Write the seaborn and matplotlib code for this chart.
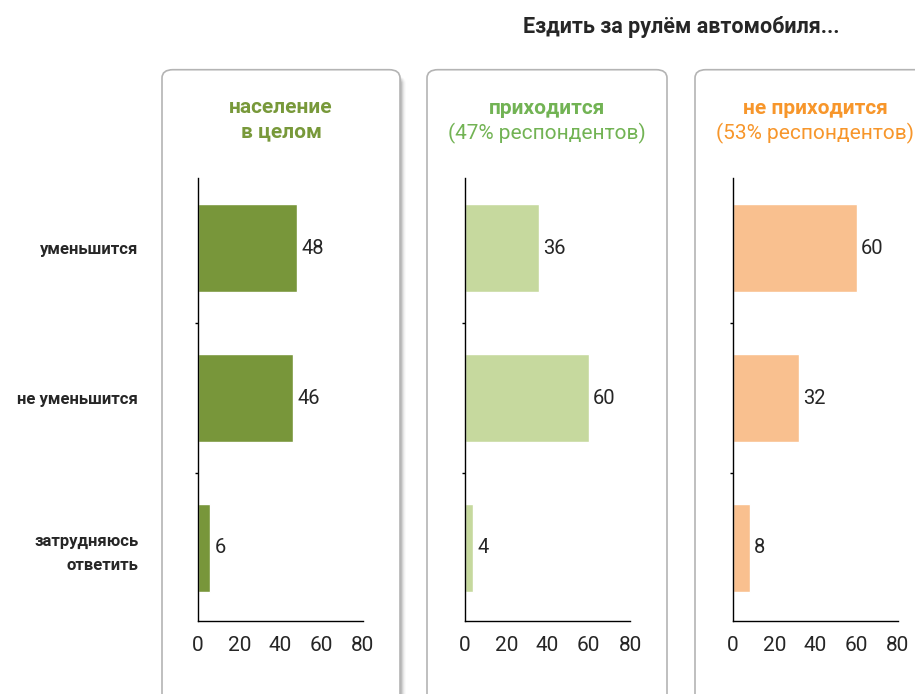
import numpy as np
import pandas as pd
import seaborn as sns
import matplotlib.pyplot as plt
from matplotlib import font_manager
from matplotlib.patches import FancyBboxPatch

categories = ['уменьшится', 'не уменьшится', 'затрудняюсь\nответить']
total = [48, 46, 6]
drivers = [36, 60, 4]
non_drivers = [60, 32, 8]

panel_titles = ['население\nв целом', 'приходится', 'не приходится']
panel_subtitles = ['', '(47% респондентов)', '(53% респондентов)']
main_title = 'Ездить за рулём автомобиля...'
xticks = [0, 20, 40, 60, 80]

bar_colors = ['#78963a', '#c6d99e', '#f9c08f']
title_colors = ['#78993a', '#72b354', '#f7962b']

sns.set_style('white')
names = {f.name for f in font_manager.fontManager.ttflist}
fam = 'Liberation Sans Narrow' if 'Liberation Sans Narrow' in names else 'Roboto'
plt.rcParams['font.family'] = [fam, 'DejaVu Sans']

W, H = 915, 694
fig = plt.figure(figsize=(W / 100, H / 100), dpi=100)

# panel boxes (pixel coords -> figure fraction)
boxes = [(162, 400), (427, 667), (695, 935)]
for i, (x0, x1) in enumerate(boxes):
    if i == 0:
        # soft shadow on the right side of the first panel
        for k, a in enumerate([0.10, 0.07, 0.05, 0.03, 0.02]):
            sh = FancyBboxPatch(((x1 - 30) / W, -0.05), (30 + 2 + k) / W, (H - 76 + 35) / H,
                                boxstyle='round,pad=0,rounding_size=0.012', transform=fig.transFigure,
                                facecolor='black', edgecolor='none', alpha=a, zorder=0)
            fig.add_artist(sh)
    box = FancyBboxPatch((x0 / W, -0.05), (x1 - x0) / W, (H - 70 + 35) / H,
                         boxstyle='round,pad=0,rounding_size=0.012', transform=fig.transFigure,
                         facecolor='white', edgecolor='#b4b4b4', linewidth=1.2, zorder=1)
    fig.add_artist(box)

fig.text(681 / W, 1 - 27 / H, main_title, ha='center', va='center', fontsize=15.5, fontweight='bold')

lefts = [198, 465, 733]
series = [total, drivers, non_drivers]
centers = [281, 547, 815]
for i in range(3):
    ax = fig.add_axes([lefts[i] / W, 73 / H, 165 / W, 443 / H])
    ax.set_zorder(2)
    ax.patch.set_alpha(0)
    df = pd.DataFrame({'cat': categories, 'val': series[i]})
    sns.barplot(data=df, x='val', y='cat', color=bar_colors[i], saturation=1, width=0.59, ax=ax)
    ax.set_xlim(0, 80)
    ax.set_ylim(2.49, -0.47)
    ax.set_xticks(xticks)
    ax.set_xlabel('')
    ax.set_ylabel('')
    for s in ['top', 'right']:
        ax.spines[s].set_visible(False)
    for s in ['left', 'bottom']:
        ax.spines[s].set_color('black')
        ax.spines[s].set_linewidth(1)
    ax.tick_params(axis='x', direction='out', length=5, width=1, color='black', labelsize=15, pad=6)
    ax.set_yticks([0.5, 1.5], minor=True)
    ax.tick_params(axis='y', which='minor', direction='out', length=2, width=1, color='black', left=True)
    if i == 0:
        ax.tick_params(axis='y', which='major', length=0, pad=43, labelsize=12)
        for t in ax.get_yticklabels():
            t.set_fontweight('bold')
            t.set_linespacing(1.75)
    else:
        ax.tick_params(axis='y', which='major', length=0)
        ax.set_yticklabels([])
    for j, v in enumerate(series[i]):
        ax.text(v + 2, j, str(v), ha='left', va='center', fontsize=14.5)

    if panel_subtitles[i]:
        fig.text(centers[i] / W, 1 - 108 / H, panel_titles[i], ha='center', va='center',
                 fontsize=15, fontweight='bold', color=title_colors[i])
        fig.text(centers[i] / W, 1 - 133 / H, panel_subtitles[i], ha='center', va='center',
                 fontsize=15, color=title_colors[i])
    else:
        fig.text(centers[i] / W, 1 - 120 / H, panel_titles[i], ha='center', va='center',
                 fontsize=15, fontweight='bold', color=title_colors[i], linespacing=1.35)

fig.savefig('out.png', dpi=100)
